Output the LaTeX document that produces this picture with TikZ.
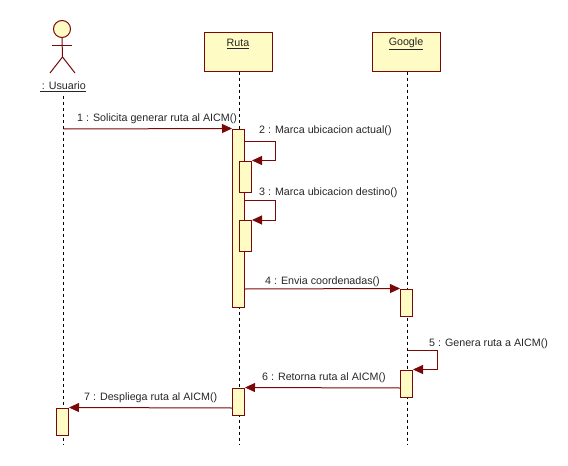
\documentclass[tikz,border=0pt]{standalone}
\usepackage{fontspec}
\setmainfont{Liberation Sans}
\usetikzlibrary{arrows.meta}
\definecolor{umlline}{RGB}{122,8,8}
\definecolor{umlfill}{RGB}{255,251,196}
\tikzset{
  lifebox/.style={draw=umlline, fill=umlfill, line width=1pt, minimum width=68pt, minimum height=39pt, inner sep=0pt},
  activebox/.style={draw=umlline, fill=umlfill, line width=1pt, minimum width=12pt, inner sep=0pt},
  lifeline/.style={black, line width=0.8pt, dash pattern=on 3pt off 3pt},
  msg/.style={umlline, line width=1pt, -{Triangle[length=10pt,width=9pt]}},
  msgtxt/.style={anchor=west, inner sep=0pt, font=\fontsize{10.7}{13}\selectfont, text=black!85},
  headtxt/.style={inner sep=0pt, font=\fontsize{10.7}{13}\selectfont, text=black!85}
}
\begin{document}
\begin{tikzpicture}[x=1pt, y=-1pt]
\useasboundingbox (0,0) rectangle (568,466);

% actor
\node[circle, draw=umlline, fill=umlfill, line width=1pt, minimum size=17pt, inner sep=0pt] (head) at (62,29) {};
\coordinate (hip) at (62.5,57);
\draw[umlline, line width=1pt] (head.south) -- (hip);
\draw[umlline, line width=1pt] (52,45) -- (72,45);
\draw[umlline, line width=1pt] (50,73) -- (hip) -- (75,73);
\node[headtxt] (usuario) at (63,87) {\underline{\,: Usuario}};

% objects
\node[lifebox] (ruta) at (238.5,51.5) {};
\node[headtxt] (rutatxt) at (238,44) {\underline{Ruta}};
\node[lifebox] (google) at (406.5,51.5) {};
\node[headtxt] (googletxt) at (406,44) {\underline{Google}};

% lifelines
\coordinate (usuariotop) at (63.5,96);
\coordinate (usuarioend) at (63.5,445);
\coordinate (rutatop) at (239.5,71.5);
\coordinate (rutaend) at (239.5,445);
\coordinate (googletop) at (407.5,71.5);
\coordinate (googleend) at (407.5,445);
\draw[lifeline] (usuariotop) -- (usuarioend);
\draw[lifeline] (rutatop) -- (rutaend);
\draw[lifeline] (googletop) -- (googleend);

% activations
\node[activebox, minimum height=178pt] (a1) at (238.5,218) {};
\node[activebox, minimum height=31pt] (a2) at (245.5,176.5) {};
\node[activebox, minimum height=31pt] (a3) at (245.5,236) {};
\node[activebox, minimum height=27pt] (a4) at (406.5,302.5) {};
\node[activebox, minimum height=27pt] (a5) at (406.5,383.5) {};
\node[activebox, minimum height=27pt] (a6) at (238.5,401.5) {};
\node[activebox, minimum height=27pt] (a7) at (62.5,421.5) {};

% messages
\coordinate (m1) at (63.5,129);
\coordinate (m2) at (244.5,141);
\coordinate (m3) at (244.5,200);
\coordinate (m4) at (244.5,289);
\coordinate (m5) at (407.5,350);
\coordinate (m6) at (400.5,388);
\coordinate (m7) at (232.5,408);
\draw[msg] (m1) -- (a1.north west);
\draw[msg] (m2) -- ++(31,0) |- (a2.north east);
\draw[msg] (m3) -- ++(31,0) |- (a3.north east);
\draw[msg] (m4) -- (a4.north west);
\draw[msg] (m5) -- ++(30,0) |- (a5.north east);
\draw[msg] (m6) -- (a6.north east);
\draw[msg] (m7) -- (a7.north east);

\node[msgtxt] (t1) at (77,118.5) {1 : Solicita generar ruta al AICM()};
\node[msgtxt] (t2) at (259,130.5) {2 : Marca ubicacion actual()};
\node[msgtxt] (t3) at (259,192.5) {3 : Marca ubicacion destino()};
\node[msgtxt] (t4) at (265,281.5) {4 : Envia coordenadas()};
\node[msgtxt] (t5) at (429,343.5) {5 : Genera ruta a AICM()};
\node[msgtxt] (t6) at (262,377.5) {6 : Retorna ruta al AICM()};
\node[msgtxt] (t7) at (84,397.5) {7 : Despliega ruta al AICM()};
\end{tikzpicture}
\end{document}
